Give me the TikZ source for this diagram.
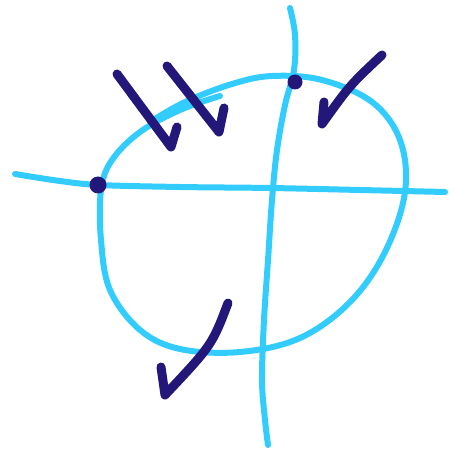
\documentclass[tikz,border=0pt]{standalone}
\usetikzlibrary{calc}
\definecolor{skyb}{HTML}{33CCFF}
\definecolor{navyd}{HTML}{231779}
\tikzset{
  bluestroke/.style={draw=skyb, line width=6bp, line cap=round, line join=round},
  navystroke/.style={draw=navyd, line width=9bp, line cap=round, line join=round},
  dotmark/.style={circle, fill=navyd, inner sep=0pt, minimum size=17bp}
}
\begin{document}
\begin{tikzpicture}[x=1bp,y=-1bp]
\useasboundingbox (0,0) rectangle (464,452);
% circle
\draw[bluestroke] plot[smooth, tension=0.6] coordinates {
 (220,96) (180,110) (140,132) (112,160) (101,190) (101,240) (110,290) (140,330)
 (180,349) (240,352) (300,338) (350,302) (385,252) (405,192) (400,140) (372,102)
 (322,80) (272,76) (232,84) (185,102) (150,122)};
% horizontal line
\draw[bluestroke] plot[smooth, tension=0.6] coordinates {
 (15,174) (60,181) (100,185) (180,187) (270,188) (360,190) (445,192)};
% vertical line
\draw[bluestroke] plot[smooth, tension=0.6] coordinates {
 (290,8) (295,35) (294,70) (285,105) (277,150) (272,200) (268,260) (264,320) (262,380) (265,420) (268,445)};
% dots
\node[dotmark] (d1) at (98,185) {};
\node[dotmark, minimum size=15bp] (d2) at (295,82) {};
% arrows
\draw[navystroke] (117,74) -- (171,147) -- (177,127);
\draw[navystroke] (167,66) -- (219,132) -- (224,108);
\draw[navystroke] (382,55) .. controls (350,85) .. (322,124) -- (324,102);
\draw[navystroke] (228,303) .. controls (212,345) .. (165,395) -- (161,367);
\end{tikzpicture}
\end{document}
